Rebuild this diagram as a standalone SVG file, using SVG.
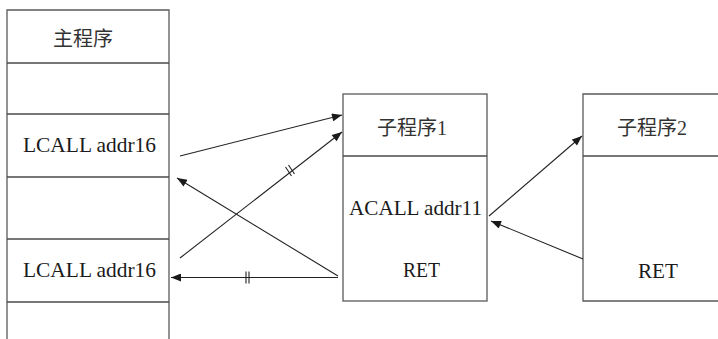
<svg xmlns="http://www.w3.org/2000/svg" width="718" height="339" viewBox="0 0 718 339">
  <defs>
    <marker id="arrow" viewBox="0 0 10 8" refX="10" refY="4" markerWidth="11" markerHeight="8" markerUnits="userSpaceOnUse" orient="auto">
      <path d="M0,0 L10,4 L0,8 Z" fill="#1a1a1a"/>
    </marker>
    <style>
      .box { fill: none; stroke: #5a5a5a; stroke-width: 1.3; }
      .sep { stroke: #4a4a4a; stroke-width: 1.3; }
      .link { fill: none; stroke: #222; stroke-width: 1.1; marker-end: url(#arrow); }
      .tick { stroke: #222; stroke-width: 1.1; }
      .lbl { font-family: "Liberation Serif", "Noto Sans CJK SC", serif; font-size: 22px; fill: #1a1a1a; }
      .cjk { font-family: "Liberation Serif", "Noto Sans CJK SC", serif; font-size: 20px; fill: #333; }
    </style>
  </defs>
  <rect width="718" height="339" fill="#fff"/>

  <!-- main program: a column of cells running off the bottom -->
  <g id="main">
    <path class="box" d="M7,339 V10 H169 V339"/>
    <line class="sep" x1="7" y1="63" x2="169" y2="63"/>
    <line class="sep" x1="7" y1="114" x2="169" y2="114"/>
    <line class="sep" x1="7" y1="177" x2="169" y2="177"/>
    <line class="sep" x1="7" y1="239" x2="169" y2="239"/>
    <line class="sep" x1="7" y1="302" x2="169" y2="302"/>
    <text class="cjk" x="53" y="46" font-size="20.5">主程序</text>
    <text class="lbl" x="23" y="152" textLength="133" lengthAdjust="spacingAndGlyphs">LCALL addr16</text>
    <text class="lbl" x="23" y="277" textLength="133" lengthAdjust="spacingAndGlyphs">LCALL addr16</text>
  </g>

  <!-- subroutine 1 -->
  <g id="sub1">
    <rect class="box" x="343" y="94" width="144" height="207"/>
    <line class="sep" x1="343" y1="156" x2="487" y2="156"/>
    <text class="cjk" x="377" y="135">子程序1</text>
    <text class="lbl" x="349" y="215" textLength="133" lengthAdjust="spacingAndGlyphs">ACALL addr11</text>
    <text class="lbl" x="403" y="277" textLength="37" lengthAdjust="spacingAndGlyphs">RET</text>
  </g>

  <!-- subroutine 2 (continues past the right edge) -->
  <g id="sub2">
    <path class="box" d="M720,94 H583 V301 H720"/>
    <line class="sep" x1="583" y1="156" x2="718" y2="156"/>
    <text class="cjk" x="617" y="135">子程序2</text>
    <text class="lbl" x="638" y="278" textLength="40" lengthAdjust="spacingAndGlyphs">RET</text>
  </g>

  <!-- calls and returns -->
  <g id="connectors">
    <line class="link" x1="180" y1="156" x2="342" y2="115"/>
    <line class="link" x1="180" y1="258" x2="342" y2="132"/>
    <line class="link" x1="338" y1="276" x2="177" y2="178"/>
    <line class="link" x1="338" y1="277.5" x2="171" y2="277.5"/>
    <line class="link" x1="489" y1="216" x2="582" y2="136"/>
    <line class="link" x1="583" y1="259" x2="491" y2="221"/>
    <!-- break marks on the long jumps -->
    <line class="tick" x1="285.5" y1="167" x2="291.5" y2="176"/>
    <line class="tick" x1="288.5" y1="165" x2="294.5" y2="174"/>
    <line class="tick" x1="246" y1="271.5" x2="246" y2="283.5"/>
    <line class="tick" x1="249" y1="271.5" x2="249" y2="283.5"/>
  </g>
</svg>
